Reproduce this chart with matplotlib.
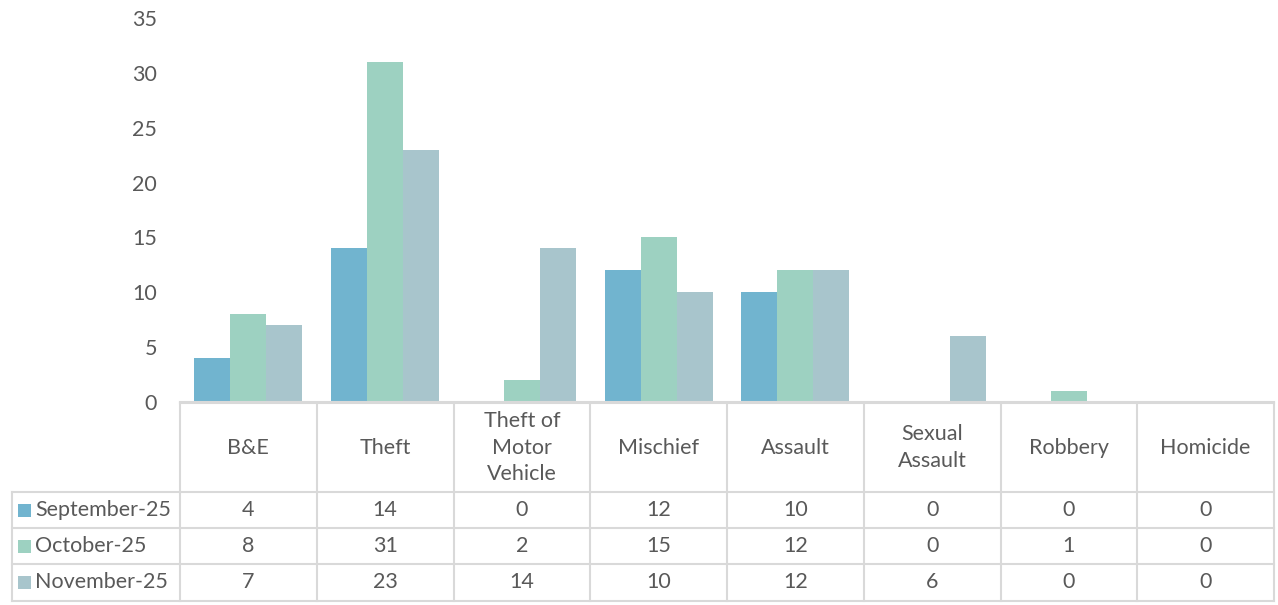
import numpy as np
import matplotlib.pyplot as plt

categories = ["B&E", "Theft", "Theft of\nMotor\nVehicle", "Mischief", "Assault",
              "Sexual\nAssault", "Robbery", "Homicide"]
series_names = ["September-25", "October-25", "November-25"]
september = [4, 14, 0, 12, 10, 0, 0, 0]
october = [8, 31, 2, 15, 12, 0, 1, 0]
november = [7, 23, 14, 10, 12, 6, 0, 0]
yticks = [0, 5, 10, 15, 20, 25, 30, 35]

series = [september, october, november]
colors = ["#71B4CF", "#9DD1C1", "#A8C5CC"]
txt = "#595959"
grid = "#D9D9D9"
fs = 15.5
plt.rcParams['font.family'] = ['Lato', 'DejaVu Sans']

W, H = 1278, 605
fig = plt.figure(figsize=(W / 100, H / 100), dpi=100)

# pixel helpers
def fx(px):
    return px / W

def fy(py):
    return 1 - py / H

x_left, x_right = 180, 1274
y_zero, y_top = 402, 18
ax = fig.add_axes([fx(x_left), fy(y_zero), fx(x_right - x_left), (y_zero - y_top) / H])

n = len(categories)
x = np.arange(n)
bw = 0.263
for i, (vals, c) in enumerate(zip(series, colors)):
    ax.bar(x + (i - 1) * bw, vals, width=bw, color=c, label=series_names[i])

ax.set_xlim(-0.5, n - 0.5)
ax.set_ylim(0, 35)
ax.set_yticks(yticks)
ax.set_yticklabels([str(t) for t in yticks], fontsize=fs, color=txt)
ax.tick_params(axis='y', length=0, pad=16.5)
ax.set_xticks([])
for s in ['top', 'right', 'left']:
    ax.spines[s].set_visible(False)
ax.spines['bottom'].set_color(grid)
ax.spines['bottom'].set_linewidth(1.5)

# data table drawn beneath the plot
tab = fig.add_axes([0, 0, 1, 1], facecolor='none')
tab.set_xlim(0, W)
tab.set_ylim(H, 0)
tab.axis('off')

col_w = (x_right - x_left) / n
row_y = [403, 492, 528, 564, 601]
lc = dict(color=grid, lw=1.5)

tab.plot([x_left, x_right], [row_y[0], row_y[0]], **lc)
for yy in row_y[1:]:
    tab.plot([12, x_right], [yy, yy], **lc)
for k in range(n + 1):
    xx = x_left + k * col_w
    tab.plot([xx, xx], [row_y[0], row_y[-1]], **lc)
tab.plot([12, 12], [row_y[1], row_y[-1]], **lc)

for k, cat in enumerate(categories):
    cx = x_left + (k + 0.5) * col_w
    tab.text(cx, (row_y[0] + row_y[1]) / 2, cat, ha='center', va='center',
             fontsize=fs, color=txt, linespacing=1.4)
    for r, vals in enumerate(series):
        cy = (row_y[r + 1] + row_y[r + 2]) / 2
        tab.text(cx, cy, str(vals[k]), ha='center', va='center', fontsize=fs, color=txt)

for r, name in enumerate(series_names):
    cy = (row_y[r + 1] + row_y[r + 2]) / 2
    tab.add_patch(plt.Rectangle((18, cy - 6.5), 13, 13, color=colors[r], lw=0))
    tab.text(35, cy, name, ha='left', va='center', fontsize=fs, color=txt)

fig.savefig("out.png", dpi=100)
